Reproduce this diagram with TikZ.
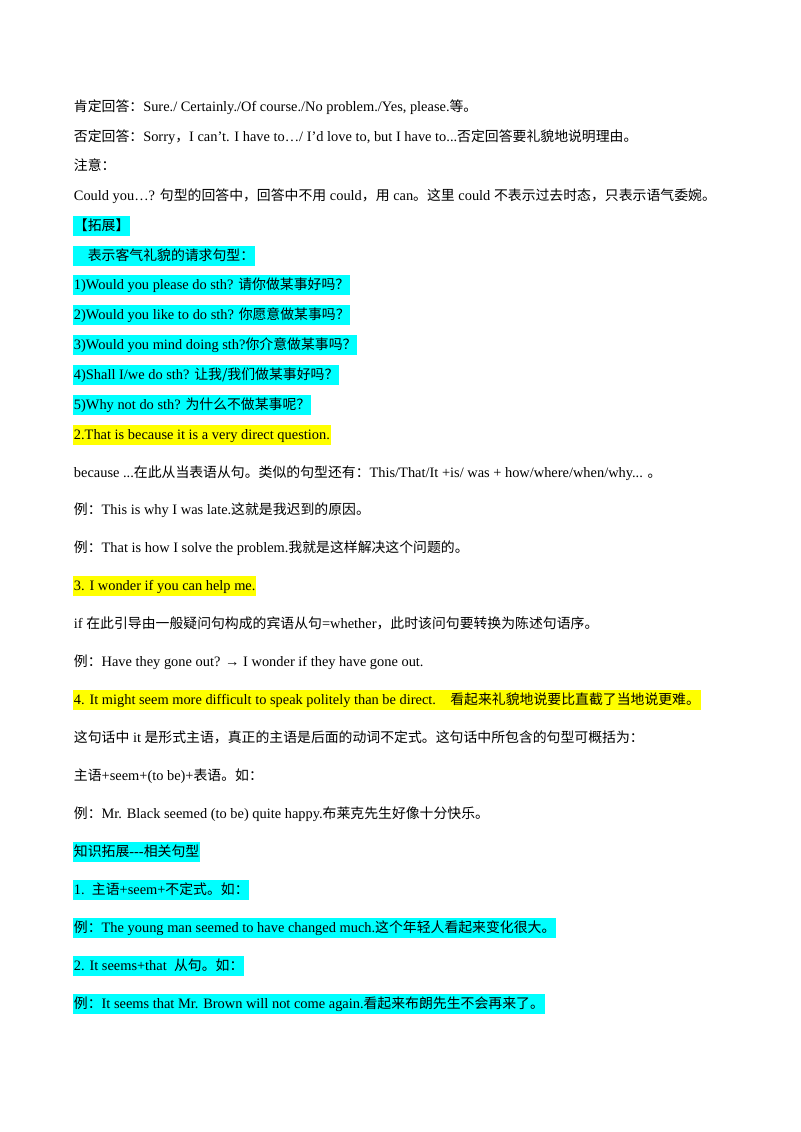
\documentclass[tikz,border=0pt]{standalone}
\usepackage{fontspec}
\setmainfont{Liberation Serif}
\newfontfamily\cjk{Noto Sans CJK SC}
\newcommand{\zh}[1]{{\cjk\fontsize{10.4pt}{12pt}\selectfont #1}}
\definecolor{hcyan}{RGB}{0,255,255}
\definecolor{hyel}{RGB}{255,255,0}
\begin{document}
\begin{tikzpicture}[x=0.75pt,y=-0.75pt,
  ln/.style={anchor=west,inner xsep=0.5pt,inner ysep=1pt,text height=9.5pt,text depth=2.8pt,font=\fontsize{10.8pt}{12pt}\selectfont},
  hc/.style={ln,fill=hcyan},
  hy/.style={ln,fill=hyel}]
\useasboundingbox (0,0) rectangle (800,1132);
\fill[white] (0,0) rectangle (800,1132);
\node[ln] (l1) at (73,107) {\zh{肯定回答：}Sure./ Certainly./Of course./No problem./Yes, please.\zh{等。}};
\node[ln] (l2) at (73,137) {\zh{否定回答：}Sorry\zh{，}I can’t. I have to…/ I’d love to, but I have to...\zh{否定回答要礼貌地说明理由。}};
\node[ln] (l3) at (73,166) {\zh{注意：}};
\node[ln] (l4) at (73,196) {Could you…? \zh{句型的回答中，回答中不用} could\zh{，用} can\zh{。这里} could \zh{不表示过去时态，只表示语气委婉。}};
\node[hc] (l5) at (73,226) {\zh{【拓展】}};
\node[hc] (l6) at (73,256) {\zh{\quad 表示客气礼貌的请求句型：}};
\node[hc] (l7) at (73,285) {1)Would you please do sth? \zh{请你做某事好吗？}};
\node[hc] (l8) at (73,315) {2)Would you like to do sth? \zh{你愿意做某事吗？}};
\node[hc] (l9) at (73,345) {3)Would you mind doing sth?\zh{你介意做某事吗？}};
\node[hc] (l10) at (73,375) {4)Shall I/we do sth? \zh{让我/我们做某事好吗？}};
\node[hc] (l11) at (73,405) {5)Why not do sth? \zh{为什么不做某事呢？}};
\node[hy] (l12) at (73,435) {2.That is because it is a very direct question.};
\node[ln] (l13) at (73,473) {because ...\zh{在此从当表语从句。类似的句型还有：}This/That/It +is/ was + how/where/when/why... \zh{。}};
\node[ln] (l14) at (73,510) {\zh{例：}This is why I was late.\zh{这就是我迟到的原因。}};
\node[ln] (l15) at (73,548) {\zh{例：}That is how I solve the problem.\zh{我就是这样解决这个问题的。}};
\node[hy] (l16) at (73,586) {3. I wonder if you can help me.};
\node[ln] (l17) at (73,624) {if \zh{在此引导由一般疑问句构成的宾语从句}=whether\zh{，此时该问句要转换为陈述句语序。}};
\node[ln] (l18) at (73,662) {\zh{例：}Have they gone out? → I wonder if they have gone out.};
\node[hy] (l19) at (73,700) {4. It might seem more difficult to speak politely than be direct.\quad \zh{看起来礼貌地说要比直截了当地说更难。}};
\node[ln] (l20) at (73,738) {\zh{这句话中} it \zh{是形式主语，真正的主语是后面的动词不定式。这句话中所包含的句型可概括为：}};
\node[ln] (l21) at (73,776) {\zh{主语}+seem+(to be)+\zh{表语。如：}};
\node[ln] (l22) at (73,814) {\zh{例：}Mr. Black seemed (to be) quite happy.\zh{布莱克先生好像十分快乐。}};
\node[hc] (l23) at (73,852) {\zh{知识拓展}{-}{-}{-}\zh{相关句型}};
\node[hc] (l24) at (73,890) {1.\ \ \zh{主语}+seem+\zh{不定式。如：}};
\node[hc] (l25) at (73,928) {\zh{例：}The young man seemed to have changed much.\zh{这个年轻人看起来变化很大。}};
\node[hc] (l26) at (73,966) {2. It seems+that \ \zh{从句。如：}};
\node[hc] (l27) at (73,1004) {\zh{例：}It seems that Mr. Brown will not come again.\zh{看起来布朗先生不会再来了。}};
\end{tikzpicture}
\end{document}
